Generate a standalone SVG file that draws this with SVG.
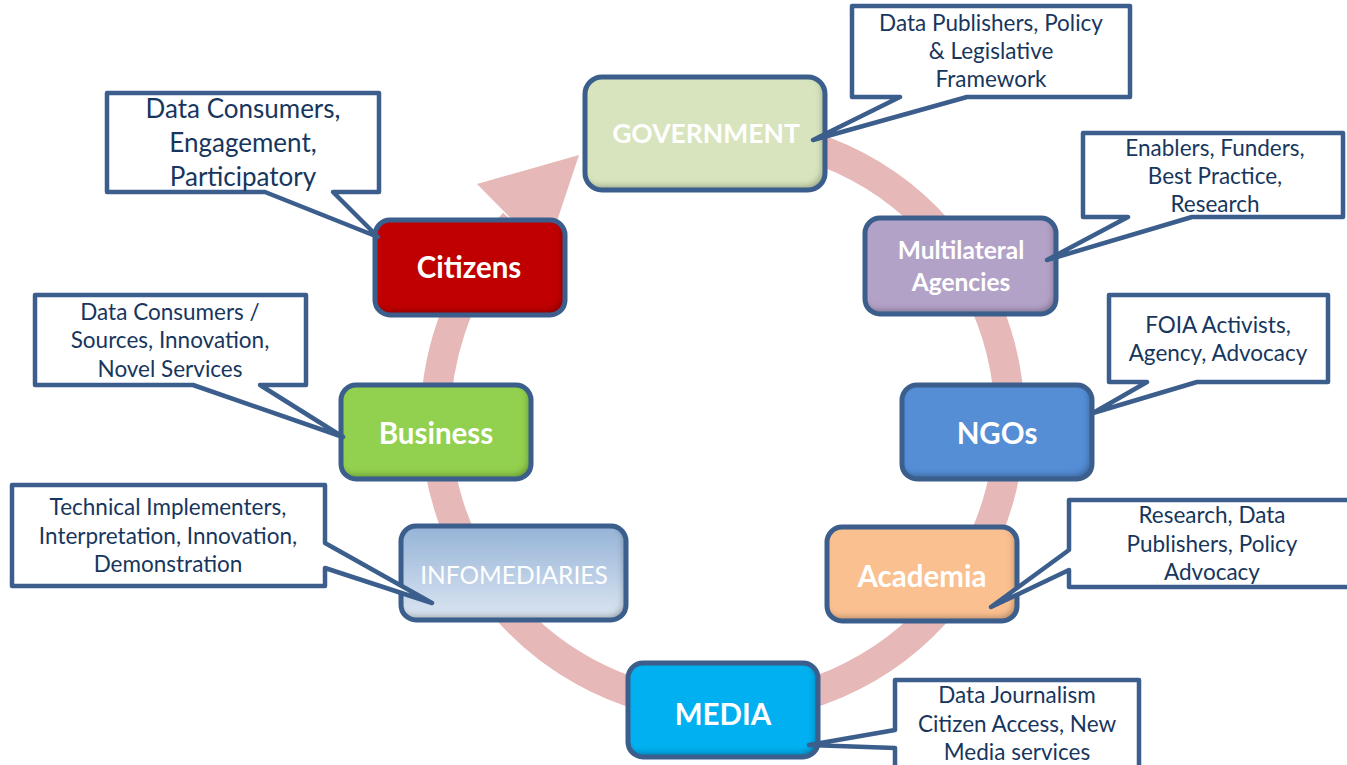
<svg xmlns="http://www.w3.org/2000/svg" width="1347" height="765" viewBox="0 0 1347 765">
<defs>
  <filter id="bev" x="-5%" y="-5%" width="110%" height="110%">
    <feOffset in="SourceAlpha" dx="-3" dy="-4" result="off"/>
    <feGaussianBlur in="off" stdDeviation="3" result="blur"/>
    <feComposite in="SourceAlpha" in2="blur" operator="out" result="edge"/>
    <feFlood flood-color="#000" flood-opacity="0.55" result="c"/>
    <feComposite in="c" in2="edge" operator="in" result="sh"/>
    <feMerge><feMergeNode in="SourceGraphic"/><feMergeNode in="sh"/></feMerge>
  </filter>
  <linearGradient id="gInfo" x1="0" y1="0" x2="0" y2="1">
    <stop offset="0" stop-color="#95b3d7"/>
    <stop offset="1" stop-color="#dce6f2"/>
  </linearGradient>
</defs>
<style>
  .fill { filter: url(#bev); }
  .edge { fill: none; stroke: #3b5e8c; stroke-width: 5; }
  .lbl { font-family: Lato, "Liberation Sans", sans-serif; font-weight: bold; fill: #ffffff; text-anchor: middle; }
  .co { fill: #ffffff; stroke: #3b5e8c; stroke-width: 4.5; stroke-linejoin: round; }
  .ct { font-family: Lato, "Liberation Sans", sans-serif; font-size: 22.5px; fill: #17365d; text-anchor: middle; }
</style>
<rect width="1347" height="765" fill="#ffffff"/>

<g id="connectors">
  <path d="M 722 133 A 287 287 0 1 1 514 223" fill="none" stroke="#e6b9b8" stroke-width="30"/>
  <polygon points="477,184 579,155 546,254" fill="#e6b9b8"/>
</g>

<g id="node-government">
  <rect class="fill" x="585" y="77" width="240" height="113" rx="17" fill="#d7e4bd"/>
  <rect class="edge" x="585" y="77" width="240" height="113" rx="17"/>
  <text class="lbl" x="706" y="143" font-size="26.5">GOVERNMENT</text>
</g>

<g id="node-citizens">
  <rect class="fill" x="375" y="220" width="190" height="95" rx="15" fill="#c00000"/>
  <rect class="edge" x="375" y="220" width="190" height="95" rx="15"/>
  <text class="lbl" x="469" y="278" font-size="29.5">Citizens</text>
</g>

<g id="node-multilateral">
  <rect class="fill" x="865" y="218" width="191" height="96" rx="15" fill="#b3a2c7"/>
  <rect class="edge" x="865" y="218" width="191" height="96" rx="15"/>
  <text class="lbl" x="961" y="259" font-size="24.5">Multilateral</text>
  <text class="lbl" x="961" y="291" font-size="24.5">Agencies</text>
</g>

<g id="node-business">
  <rect class="fill" x="341" y="385" width="190" height="94" rx="15" fill="#92d050"/>
  <rect class="edge" x="341" y="385" width="190" height="94" rx="15"/>
  <text class="lbl" x="436" y="444" font-size="29.5">Business</text>
</g>

<g id="node-ngos">
  <rect class="fill" x="902" y="385" width="190" height="94" rx="15" fill="#558ed5"/>
  <rect class="edge" x="902" y="385" width="190" height="94" rx="15"/>
  <text class="lbl" x="997" y="444" font-size="29.5">NGOs</text>
</g>

<g id="node-infomediaries">
  <rect class="fill" x="401" y="526" width="225" height="94" rx="15" fill="url(#gInfo)"/>
  <rect class="edge" x="401" y="526" width="225" height="94" rx="15"/>
  <text class="lbl" x="514" y="584" font-size="24.5" style="font-weight:normal">INFOMEDIARIES</text>
</g>

<g id="node-academia">
  <rect class="fill" x="827" y="527" width="190" height="94" rx="15" fill="#fac090"/>
  <rect class="edge" x="827" y="527" width="190" height="94" rx="15"/>
  <text class="lbl" x="922" y="587" font-size="29.5">Academia</text>
</g>

<g id="node-media">
  <rect class="fill" x="628" y="663" width="190" height="94" rx="15" fill="#00b0f0"/>
  <rect class="edge" x="628" y="663" width="190" height="94" rx="15"/>
  <text class="lbl" x="723" y="725" font-size="29.5">MEDIA</text>
</g>

<g id="callout-government">
  <path class="co" d="M852,6 H1130 V97 H967 L813,140 L900,97 H852 Z"/>
  <text class="ct" x="991" y="31">Data Publishers, Policy</text>
  <text class="ct" x="991" y="59">&amp; Legislative</text>
  <text class="ct" x="991" y="87">Framework</text>
</g>

<g id="callout-citizens">
  <path class="co" d="M107,93 H379 V192 H333 L378,237 L265,192 H107 Z"/>
  <text class="ct" x="243" y="118" style="font-size:26px">Data Consumers,</text>
  <text class="ct" x="243" y="152" style="font-size:26px">Engagement,</text>
  <text class="ct" x="243" y="186" style="font-size:26px">Participatory</text>
</g>

<g id="callout-multilateral">
  <path class="co" d="M1083,133 H1343 V217 H1192 L1047,260 L1128,217 H1083 Z"/>
  <text class="ct" x="1215" y="156">Enablers, Funders,</text>
  <text class="ct" x="1215" y="184">Best Practice,</text>
  <text class="ct" x="1215" y="212">Research</text>
</g>

<g id="callout-business">
  <path class="co" d="M35,295 H306 V385 H260 L343,437 L193,385 H35 Z"/>
  <text class="ct" x="170" y="320">Data Consumers /</text>
  <text class="ct" x="170" y="348">Sources, Innovation,</text>
  <text class="ct" x="170" y="377">Novel Services</text>
</g>

<g id="callout-ngos">
  <path class="co" d="M1109,295 H1328 V382 H1197 L1093,413 L1147,382 H1109 Z"/>
  <text class="ct" x="1218" y="333">FOIA Activists,</text>
  <text class="ct" x="1218" y="361">Agency, Advocacy</text>
</g>

<g id="callout-infomediaries">
  <path class="co" d="M12,485 H325 V543 L432,603 L325,568 V586 H12 Z"/>
  <text class="ct" x="168" y="515">Technical Implementers,</text>
  <text class="ct" x="168" y="544">Interpretation, Innovation,</text>
  <text class="ct" x="168" y="572">Demonstration</text>
</g>

<g id="callout-academia">
  <path class="co" d="M1069,500 H1352 V587 H1069 V570 L991,607 L1069,550 Z"/>
  <text class="ct" x="1212" y="523">Research, Data</text>
  <text class="ct" x="1212" y="552">Publishers, Policy</text>
  <text class="ct" x="1212" y="580">Advocacy</text>
</g>

<g id="callout-media">
  <path class="co" d="M895,680 H1139 V780 H895 V748 L809,745 L895,730 Z"/>
  <text class="ct" x="1017" y="703">Data Journalism</text>
  <text class="ct" x="1017" y="732">Citizen Access, New</text>
  <text class="ct" x="1017" y="760">Media services</text>
</g>
</svg>
